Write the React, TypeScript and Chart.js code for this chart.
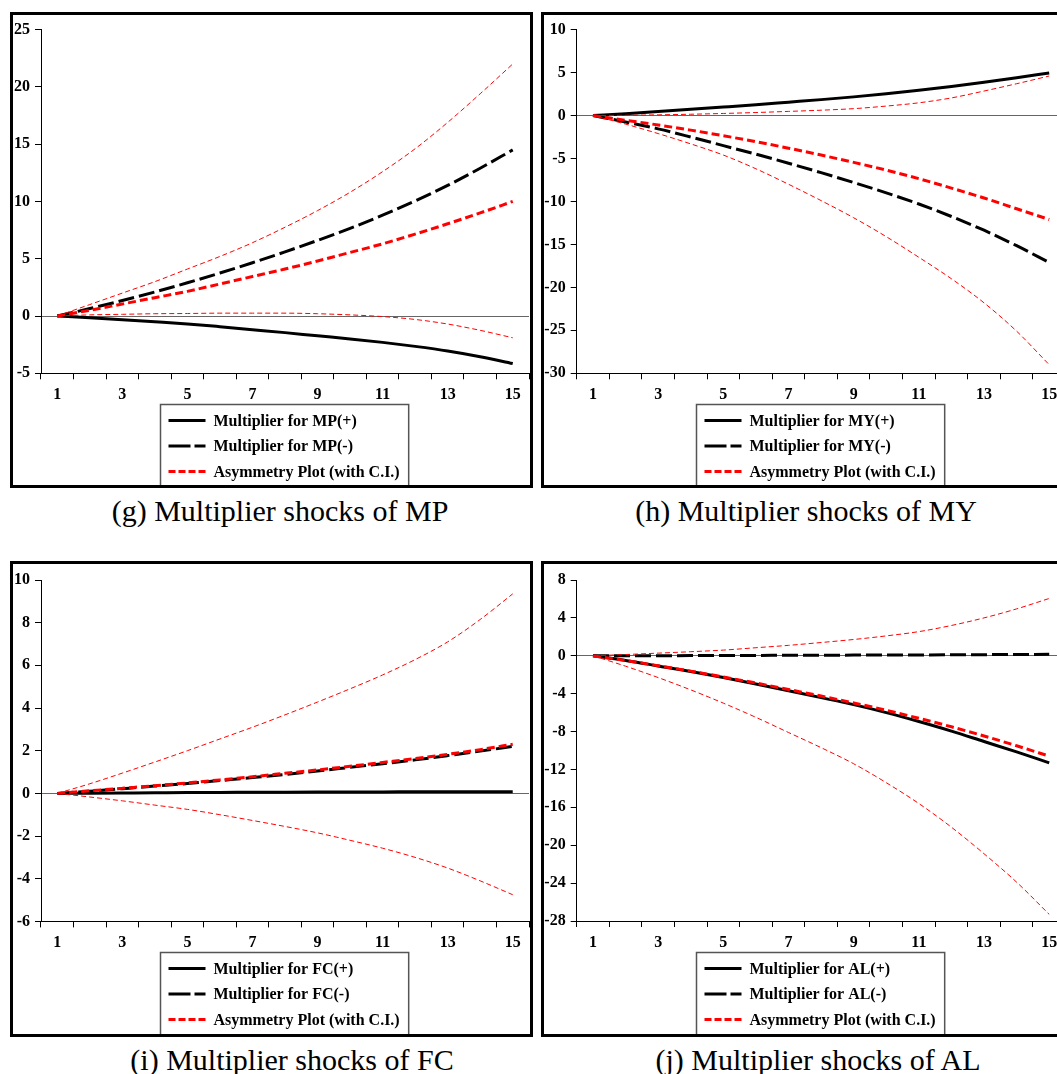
import React, { useEffect, useRef } from 'react';
import { Chart, registerables } from 'chart.js';

Chart.register(...registerables);

const FONT = "'Liberation Serif', 'Times New Roman', Times, serif";

// ---------- data ----------
const periods = ['1', '2', '3', '4', '5', '6', '7', '8', '9', '10', '11', '12', '13', '14', '15'];

// (g) MP
const mpPos = [0, -0.15, -0.32, -0.5, -0.69, -0.93, -1.19, -1.45, -1.73, -2.0, -2.3, -2.65, -3.05, -3.55, -4.15];
const mpNeg = [0, 0.65, 1.35, 2.1, 2.9, 3.75, 4.65, 5.6, 6.6, 7.65, 8.8, 10.05, 11.4, 12.9, 14.5];
const mpAsym = [0, 0.5, 1.05, 1.6, 2.15, 2.8, 3.45, 4.1, 4.8, 5.55, 6.3, 7.15, 8.05, 9.0, 10.0];
const mpUpper = [0, 1.0, 2.0, 3.0, 4.1, 5.2, 6.4, 7.75, 9.2, 10.8, 12.6, 14.6, 16.9, 19.4, 22.0];
const mpLower = [0, 0.1, 0.15, 0.2, 0.22, 0.25, 0.25, 0.25, 0.2, 0.1, -0.05, -0.3, -0.7, -1.25, -1.9];
const mpYRange = [-5, 25, 5];

// (h) MY
const myPos = [0, 0.22, 0.47, 0.72, 0.98, 1.25, 1.55, 1.85, 2.17, 2.53, 2.93, 3.38, 3.87, 4.4, 4.95];
const myNeg = [0, -0.75, -1.55, -2.5, -3.5, -4.5, -5.55, -6.65, -7.8, -9.0, -10.3, -11.75, -13.35, -15.15, -17.1];
const myAsym = [0, -0.55, -1.1, -1.7, -2.35, -3.05, -3.8, -4.6, -5.45, -6.35, -7.35, -8.45, -9.6, -10.85, -12.1];
const myUpper = [0, 0.03, 0.08, 0.15, 0.24, 0.35, 0.48, 0.62, 0.8, 1.1, 1.48, 2.05, 2.85, 3.7, 4.6];
const myLower = [0, -1.0, -2.1, -3.3, -4.6, -6.2, -8.0, -9.9, -11.9, -14.1, -16.5, -19.0, -21.8, -25.1, -29.0];
const myYRange = [-30, 10, 5];

// (i) FC
const fcPos = [0, 0.01, 0.02, 0.03, 0.04, 0.045, 0.05, 0.055, 0.06, 0.065, 0.07, 0.075, 0.08, 0.08, 0.08];
const fcNeg = [0, 0.1, 0.22, 0.34, 0.46, 0.6, 0.74, 0.89, 1.05, 1.22, 1.39, 1.57, 1.77, 1.98, 2.2];
const fcAsym = [0, 0.12, 0.24, 0.36, 0.49, 0.63, 0.78, 0.94, 1.1, 1.27, 1.45, 1.63, 1.83, 2.05, 2.3];
const fcUpper = [0, 0.45, 0.95, 1.47, 2.0, 2.55, 3.1, 3.68, 4.28, 4.9, 5.55, 6.27, 7.1, 8.15, 9.35];
const fcLower = [0, -0.17, -0.35, -0.55, -0.75, -1.0, -1.27, -1.55, -1.85, -2.2, -2.57, -3.0, -3.5, -4.1, -4.75];
const fcYRange = [-6, 10, 2];

// (j) AL
const alPos = [0, -0.5, -1.07, -1.65, -2.3, -2.98, -3.7, -4.42, -5.16, -6.0, -6.94, -7.95, -9.05, -10.15, -11.3];
const alNeg = [0, 0, 0.01, 0.02, 0.03, 0.04, 0.05, 0.06, 0.07, 0.08, 0.09, 0.1, 0.12, 0.13, 0.15];
const alAsym = [0, -0.5, -1.05, -1.62, -2.24, -2.88, -3.56, -4.25, -4.98, -5.75, -6.6, -7.5, -8.47, -9.5, -10.6];
const alUpper = [0, 0.13, 0.28, 0.43, 0.6, 0.85, 1.1, 1.4, 1.72, 2.1, 2.55, 3.2, 4.0, 4.95, 6.05];
const alLower = [0, -1.1, -2.3, -3.6, -5.0, -6.5, -8.1, -9.7, -11.4, -13.4, -15.6, -18.1, -20.9, -23.9, -27.3];
const alYRange = [-28, 8, 4];

const legendTexts = {
  MP: ['Multiplier for MP(+)', 'Multiplier for MP(-)', 'Asymmetry Plot (with C.I.)'],
  MY: ['Multiplier for MY(+)', 'Multiplier for MY(-)', 'Asymmetry Plot (with C.I.)'],
  FC: ['Multiplier for FC(+)', 'Multiplier for FC(-)', 'Asymmetry Plot (with C.I.)'],
  AL: ['Multiplier for AL(+)', 'Multiplier for AL(-)', 'Asymmetry Plot (with C.I.)'],
};

const captions = {
  MP: '(g) Multiplier shocks of MP',
  MY: '(h) Multiplier shocks of MY',
  FC: '(i) Multiplier shocks of FC',
  AL: '(j) Multiplier shocks of AL',
};

// ---------- layout ----------
const panels = [
  { key: 'MP', pos: mpPos, neg: mpNeg, asym: mpAsym, up: mpUpper, lo: mpLower, yr: mpYRange,
    left: 10, top: 12, width: 523, height: 476, yW: 28, padTop: 13.3, padRight: 1, bottom: 358.3,
    capX: 280, capTop: 496 },
  { key: 'MY', pos: myPos, neg: myNeg, asym: myAsym, up: myUpper, lo: myLower, yr: myYRange,
    left: 541, top: 12, width: 529, height: 476, yW: 32.7, padTop: 13.3, padRight: 1.5, bottom: 358.3,
    capX: 806, capTop: 496 },
  { key: 'FC', pos: fcPos, neg: fcNeg, asym: fcAsym, up: fcUpper, lo: fcLower, yr: fcYRange,
    left: 10, top: 561, width: 523, height: 476, yW: 28, padTop: 16, padRight: 1, bottom: 357.4,
    capX: 292, capTop: 1044.5 },
  { key: 'AL', pos: alPos, neg: alNeg, asym: alAsym, up: alUpper, lo: alLower, yr: alYRange,
    left: 541, top: 561, width: 529, height: 476, yW: 32.7, padTop: 16, padRight: 1.5, bottom: 357,
    capX: 818, capTop: 1044.5 },
];

const BORDER = 3;
const X_AXIS_H = 30;

function Panel({ p }: { p: any }) {
  const ref = useRef<HTMLCanvasElement | null>(null);
  const innerW = p.width - 2 * BORDER;
  const innerH = p.height - 2 * BORDER;

  useEffect(() => {
    const texts = (legendTexts as any)[p.key];
    const legendStyles = [
      { color: '#000000', width: 3, dash: [] as number[] },
      { color: '#000000', width: 3, dash: [22, 4] },
      { color: '#ff0000', width: 3, dash: [7, 3] },
    ];
    const boxLegend = {
      id: 'boxLegend',
      afterDraw(chart: any) {
        const { ctx, chartArea } = chart;
        ctx.save();
        ctx.font = `bold 16px ${FONT}`;
        const maxW = Math.max(...texts.map((t: string) => ctx.measureText(t).width));
        const w = 8 + 37 + 8 + maxW + 9;
        const cx = (chartArea.left + chartArea.right) / 2 - 1;
        const left = Math.round(cx - w / 2) + 0.5;
        const top = Math.round(chartArea.bottom + 31) + 0.5;
        ctx.strokeStyle = '#555555';
        ctx.lineWidth = 1.5;
        ctx.strokeRect(left, top, w, chart.height - top + 6);
        const rows = [16, 41.5, 67];
        texts.forEach((t: string, i: number) => {
          const y = top + rows[i];
          const s = legendStyles[i];
          ctx.beginPath();
          ctx.setLineDash(s.dash);
          ctx.strokeStyle = s.color;
          ctx.lineWidth = s.width;
          ctx.moveTo(left + 8, y);
          ctx.lineTo(left + 45, y);
          ctx.stroke();
          ctx.setLineDash([]);
          ctx.fillStyle = '#000000';
          ctx.textBaseline = 'middle';
          ctx.textAlign = 'left';
          ctx.fillText(t, left + 53, y + 1);
        });
        ctx.restore();
      },
    };

    const tickFont = { family: FONT, size: 16, weight: 'bold' as const };
    const chart = new Chart(ref.current as HTMLCanvasElement, {
      type: 'line',
      data: {
        labels: periods,
        datasets: [
          { label: 'Asymmetry', data: p.asym, borderColor: '#ff0000', borderWidth: 3, borderDash: [8, 4] },
          { label: 'Upper C.I.', data: p.up, borderColor: '#ff0000', borderWidth: 1, borderDash: [5, 3] },
          { label: 'Lower C.I.', data: p.lo, borderColor: '#ff0000', borderWidth: 1, borderDash: [5, 3] },
          { label: 'Negative', data: p.neg, borderColor: '#000000', borderWidth: 3, borderDash: [16, 5] },
          { label: 'Positive', data: p.pos, borderColor: '#000000', borderWidth: 3 },
        ],
      },
      options: {
        animation: false,
        responsive: false,
        maintainAspectRatio: false,
        events: [],
        elements: {
          point: { radius: 0, hoverRadius: 0 },
          line: { cubicInterpolationMode: 'monotone', fill: false, borderCapStyle: 'butt' },
        },
        layout: {
          autoPadding: false,
          padding: { left: 0, top: p.padTop, right: p.padRight, bottom: innerH - X_AXIS_H - p.bottom },
        },
        plugins: {
          legend: { display: false },
          tooltip: { enabled: false },
          title: { display: false },
        },
        scales: {
          x: {
            type: 'category',
            offset: true,
            grid: { offset: true, drawOnChartArea: false, tickLength: 6, tickColor: '#000000', lineWidth: 1 },
            border: { display: true, color: '#000000', width: 1 },
            ticks: {
              autoSkip: false,
              maxRotation: 0,
              minRotation: 0,
              padding: 6,
              color: '#000000',
              font: tickFont,
              callback: (_v: any, i: number) => (i % 2 === 0 ? periods[i] : ''),
            },
            afterFit: (s: any) => { s.height = X_AXIS_H; },
          },
          y: {
            min: p.yr[0],
            max: p.yr[1],
            ticks: { stepSize: p.yr[2], padding: 5, color: '#000000', font: tickFont },
            grid: {
              drawOnChartArea: true,
              color: (c: any) => (c.tick && c.tick.value === 0 ? '#666666' : 'rgba(0,0,0,0)'),
              tickColor: '#000000',
              tickLength: 6,
              lineWidth: 1,
            },
            border: { display: true, color: '#000000', width: 1 },
            afterFit: (s: any) => { s.width = p.yW; },
          },
        },
      },
      plugins: [boxLegend],
    } as any);
    return () => chart.destroy();
  }, []);

  return (
    <>
      <div
        style={{
          position: 'absolute',
          left: p.left,
          top: p.top,
          width: p.width,
          height: p.height,
          border: `${BORDER}px solid #000`,
          boxSizing: 'border-box',
          background: '#fff',
          overflow: 'hidden',
        }}
      >
        <canvas ref={ref} width={innerW} height={innerH} style={{ display: 'block', width: innerW, height: innerH }} />
      </div>
      <div
        style={{
          position: 'absolute',
          left: p.capX - 300,
          top: p.capTop,
          width: 600,
          textAlign: 'center',
          fontFamily: FONT,
          fontSize: 30,
          lineHeight: '30px',
          color: '#000',
          whiteSpace: 'nowrap',
        }}
      >
        {(captions as any)[p.key]}
      </div>
    </>
  );
}

export default function App() {
  return (
    <div
      style={{
        position: 'fixed',
        left: 0,
        top: 0,
        width: 1057,
        height: 1074,
        overflow: 'hidden',
        background: '#fff',
      }}
    >
      {panels.map((p) => (
        <Panel key={p.key} p={p} />
      ))}
    </div>
  );
}
